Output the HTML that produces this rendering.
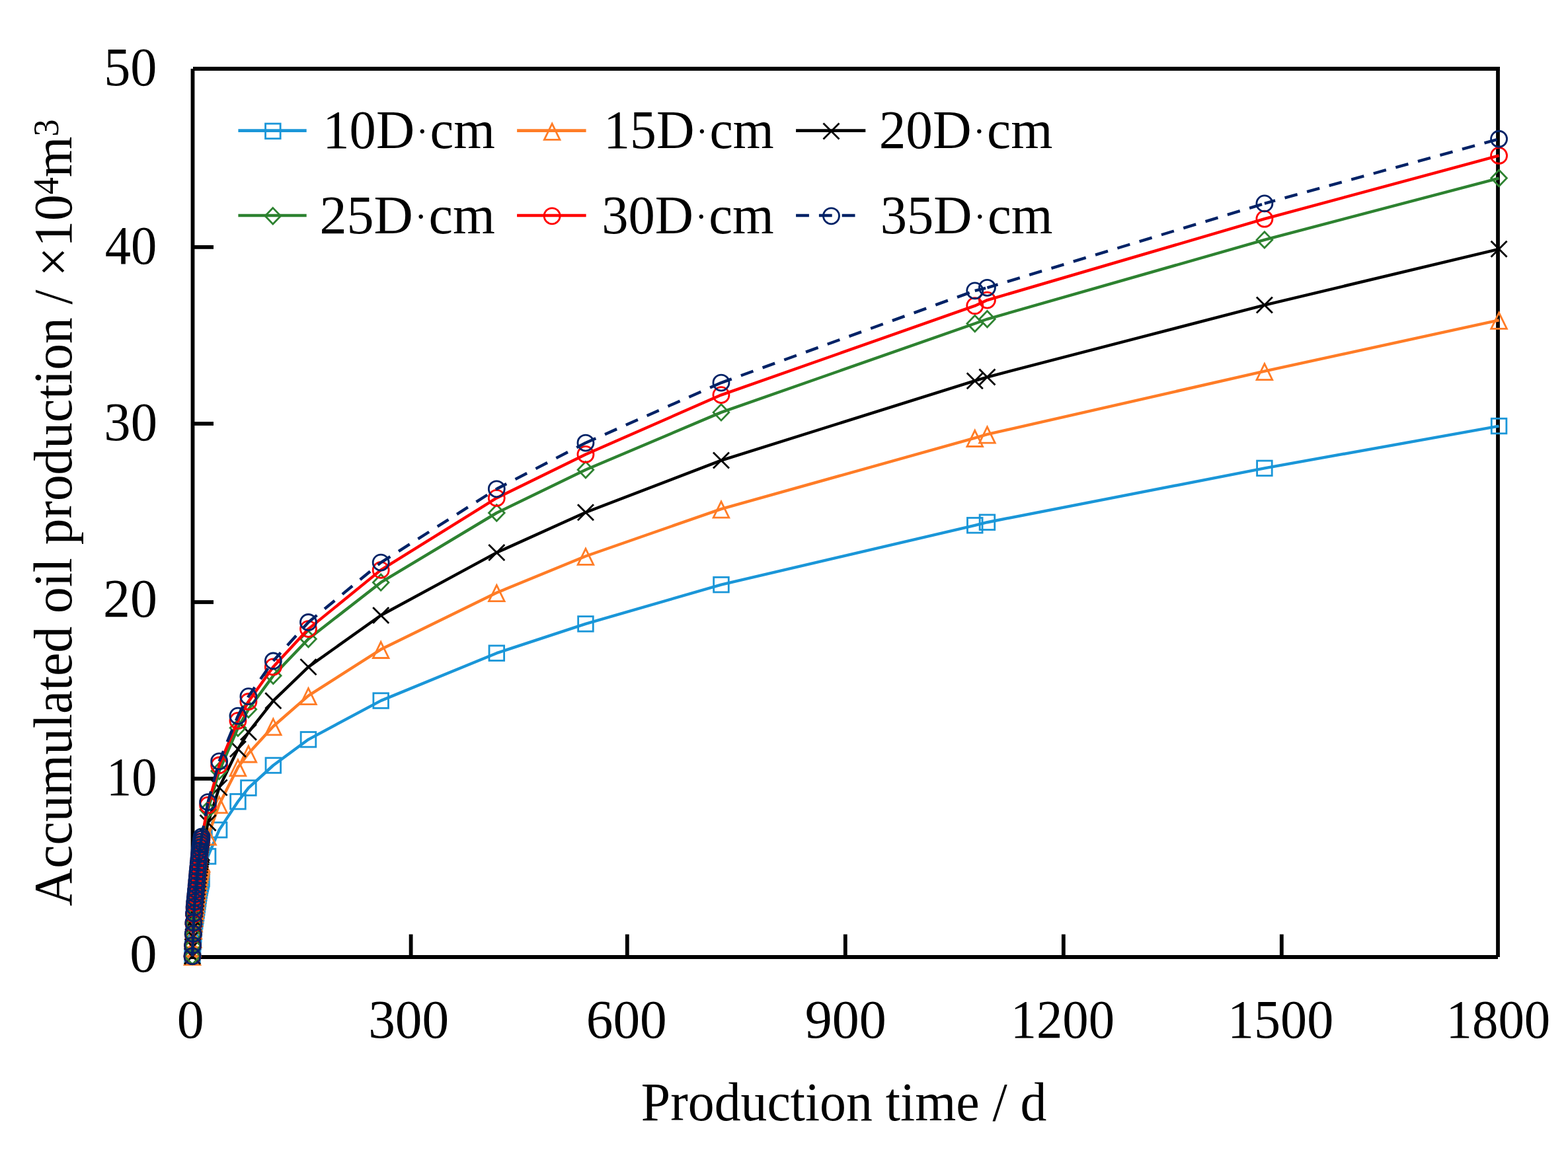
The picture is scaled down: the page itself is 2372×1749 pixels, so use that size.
<!DOCTYPE html>
<html><head><meta charset="utf-8"><title>Accumulated oil production vs production time</title>
<style>html,body{margin:0;padding:0;background:#fff;overflow:hidden;}svg{display:block;}text{font-family:"Liberation Serif","Times New Roman",serif;fill:#000;}</style></head><body>
<svg width="2372" height="1749" viewBox="0 0 2372 1749">
<rect width="2372" height="1749" fill="#fff"/>
<g stroke="#000" stroke-width="5.8" fill="none">
<path d="M291.5,104.0V1451.0"/>
<path d="M288.9,1448.0H2266.0"/>
<path d="M2266.0,101.0V1448.0"/>
<path d="M292.0,104.0H2269.0"/>
<path d="M621.60,1448.0V1413.6"/>
<path d="M948.80,1448.0V1413.6"/>
<path d="M1278.80,1448.0V1413.6"/>
<path d="M1608.80,1448.0V1413.6"/>
<path d="M1938.80,1448.0V1413.6"/>
<path d="M291.5,1178.10H323.0"/>
<path d="M291.5,911.00H323.0"/>
<path d="M291.5,641.00H323.0"/>
<path d="M291.5,373.90H323.0"/>
</g>
<text transform="translate(267.81,1569.70) scale(0.9971,1)" font-size="82">0</text>
<text transform="translate(557.23,1569.70) scale(0.9914,1)" font-size="82">300</text>
<text transform="translate(886.73,1569.70) scale(0.9922,1)" font-size="82">600</text>
<text transform="translate(1217.70,1569.70) scale(1.0000,1)" font-size="82">900</text>
<text transform="translate(1528.69,1569.70) scale(0.9591,1)" font-size="82">1200</text>
<text transform="translate(1856.95,1569.70) scale(0.9779,1)" font-size="82">1500</text>
<text transform="translate(2187.57,1569.70) scale(0.9617,1)" font-size="82">1800</text>
<text transform="translate(196.28,1470.10) scale(1.0057,1)" font-size="82">0</text>
<text transform="translate(160.99,1203.20) scale(0.9306,1)" font-size="82">10</text>
<text transform="translate(156.11,932.60) scale(0.9987,1)" font-size="82">20</text>
<text transform="translate(157.37,666.20) scale(0.9827,1)" font-size="82">30</text>
<text transform="translate(158.78,398.80) scale(0.9584,1)" font-size="82">40</text>
<text transform="translate(157.21,128.60) scale(0.9784,1)" font-size="82">50</text>
<text transform="translate(969.85,1694.80) scale(0.9729,1)" font-size="82">Production time / d</text>
<text transform="translate(108.1,1371.07) rotate(-90) scale(0.9685,1)" font-size="82">Accumulated oil production / ×10<tspan font-size="54" dy="-20">4</tspan><tspan dy="20">m</tspan><tspan font-size="54" dy="-20">3</tspan></text>
<path d="M291.00,1446.65L291.61,1435.97L292.23,1424.67L292.84,1413.88L293.46,1404.73L294.07,1398.22L294.69,1393.46L295.30,1389.52L295.92,1385.72L296.53,1381.51L297.15,1377.14L297.76,1372.74L298.38,1368.35L298.99,1364.02L299.61,1359.72L300.22,1355.30L300.84,1350.94L301.45,1346.83L302.07,1343.17L302.68,1340.00L303.30,1337.14L303.91,1334.47L304.53,1331.83L305.06,1329.49L314.61,1295.62L331.63,1255.65L359.96,1212.73L375.88,1192.07L413.33,1158.00L466.48,1118.84L576.18,1060.09L751.32,988.19L885.95,943.93L1090.97,884.65L1474.75,794.78L1493.42,790.22L1912.89,708.40L2267.58,644.55" fill="none" stroke="#1a96d8" stroke-width="4.4" stroke-linejoin="round"/>
<g fill="none" stroke="#1a96d8" stroke-width="2.8">
<rect x="279.70" y="1435.35" width="22.60" height="22.60"/><rect x="280.31" y="1424.67" width="22.60" height="22.60"/><rect x="280.93" y="1413.37" width="22.60" height="22.60"/><rect x="281.54" y="1402.58" width="22.60" height="22.60"/><rect x="282.16" y="1393.43" width="22.60" height="22.60"/><rect x="282.77" y="1386.92" width="22.60" height="22.60"/><rect x="283.39" y="1382.16" width="22.60" height="22.60"/><rect x="284.00" y="1378.22" width="22.60" height="22.60"/><rect x="284.62" y="1374.42" width="22.60" height="22.60"/><rect x="285.23" y="1370.21" width="22.60" height="22.60"/><rect x="285.85" y="1365.84" width="22.60" height="22.60"/><rect x="286.46" y="1361.44" width="22.60" height="22.60"/><rect x="287.08" y="1357.05" width="22.60" height="22.60"/><rect x="287.69" y="1352.72" width="22.60" height="22.60"/><rect x="288.31" y="1348.42" width="22.60" height="22.60"/><rect x="288.92" y="1344.00" width="22.60" height="22.60"/><rect x="289.54" y="1339.64" width="22.60" height="22.60"/><rect x="290.15" y="1335.53" width="22.60" height="22.60"/><rect x="290.77" y="1331.87" width="22.60" height="22.60"/><rect x="291.38" y="1328.70" width="22.60" height="22.60"/><rect x="292.00" y="1325.84" width="22.60" height="22.60"/><rect x="292.61" y="1323.17" width="22.60" height="22.60"/><rect x="293.23" y="1320.53" width="22.60" height="22.60"/><rect x="293.76" y="1318.19" width="22.60" height="22.60"/><rect x="303.31" y="1284.32" width="22.60" height="22.60"/><rect x="320.33" y="1244.35" width="22.60" height="22.60"/><rect x="348.66" y="1201.43" width="22.60" height="22.60"/><rect x="364.58" y="1180.77" width="22.60" height="22.60"/><rect x="402.03" y="1146.70" width="22.60" height="22.60"/><rect x="455.18" y="1107.54" width="22.60" height="22.60"/><rect x="564.88" y="1048.79" width="22.60" height="22.60"/><rect x="740.02" y="976.89" width="22.60" height="22.60"/><rect x="874.65" y="932.63" width="22.60" height="22.60"/><rect x="1079.67" y="873.35" width="22.60" height="22.60"/><rect x="1463.45" y="783.48" width="22.60" height="22.60"/><rect x="1482.12" y="778.92" width="22.60" height="22.60"/><rect x="1901.59" y="697.10" width="22.60" height="22.60"/><rect x="2256.28" y="633.25" width="22.60" height="22.60"/>
</g>
<path d="M291.00,1446.65L291.61,1433.81L292.23,1420.22L292.84,1407.25L293.46,1396.25L294.07,1388.43L294.69,1382.71L295.30,1377.97L295.92,1373.41L296.53,1368.35L297.15,1363.08L297.76,1357.80L298.38,1352.52L298.99,1347.32L299.61,1342.14L300.22,1336.84L300.84,1331.60L301.45,1326.65L302.07,1322.25L302.68,1318.44L303.30,1315.01L303.91,1311.79L304.53,1308.62L305.06,1305.80L314.61,1265.05L331.63,1216.99L359.96,1160.95L375.88,1140.03L413.33,1098.99L466.48,1052.58L576.18,982.56L751.32,896.72L885.95,841.46L1090.97,770.10L1474.75,662.53L1493.42,657.16L1912.89,561.66L2267.58,484.40" fill="none" stroke="#ff7c26" stroke-width="4.4" stroke-linejoin="round"/>
<g fill="none" stroke="#ff7c26" stroke-width="2.8">
<path d="M291.00,1435.40L302.80,1459.60L279.20,1459.60Z"/><path d="M291.61,1422.56L303.41,1446.76L279.81,1446.76Z"/><path d="M292.23,1408.97L304.03,1433.17L280.43,1433.17Z"/><path d="M292.84,1396.00L304.64,1420.20L281.04,1420.20Z"/><path d="M293.46,1385.00L305.26,1409.20L281.66,1409.20Z"/><path d="M294.07,1377.18L305.87,1401.38L282.27,1401.38Z"/><path d="M294.69,1371.46L306.49,1395.66L282.89,1395.66Z"/><path d="M295.30,1366.72L307.10,1390.92L283.50,1390.92Z"/><path d="M295.92,1362.16L307.72,1386.36L284.12,1386.36Z"/><path d="M296.53,1357.10L308.33,1381.30L284.73,1381.30Z"/><path d="M297.15,1351.83L308.95,1376.03L285.35,1376.03Z"/><path d="M297.76,1346.55L309.56,1370.75L285.96,1370.75Z"/><path d="M298.38,1341.27L310.18,1365.47L286.58,1365.47Z"/><path d="M298.99,1336.07L310.79,1360.27L287.19,1360.27Z"/><path d="M299.61,1330.89L311.41,1355.09L287.81,1355.09Z"/><path d="M300.22,1325.59L312.02,1349.79L288.42,1349.79Z"/><path d="M300.84,1320.35L312.64,1344.55L289.04,1344.55Z"/><path d="M301.45,1315.40L313.25,1339.60L289.65,1339.60Z"/><path d="M302.07,1311.00L313.87,1335.20L290.27,1335.20Z"/><path d="M302.68,1307.19L314.48,1331.39L290.88,1331.39Z"/><path d="M303.30,1303.76L315.10,1327.96L291.50,1327.96Z"/><path d="M303.91,1300.54L315.71,1324.74L292.11,1324.74Z"/><path d="M304.53,1297.37L316.33,1321.57L292.73,1321.57Z"/><path d="M305.06,1294.55L316.86,1318.75L293.26,1318.75Z"/><path d="M314.61,1253.80L326.41,1278.00L302.81,1278.00Z"/><path d="M331.63,1205.74L343.43,1229.94L319.83,1229.94Z"/><path d="M359.96,1149.70L371.76,1173.90L348.16,1173.90Z"/><path d="M375.88,1128.78L387.68,1152.98L364.08,1152.98Z"/><path d="M413.33,1087.74L425.13,1111.94L401.53,1111.94Z"/><path d="M466.48,1041.33L478.28,1065.53L454.68,1065.53Z"/><path d="M576.18,971.31L587.98,995.51L564.38,995.51Z"/><path d="M751.32,885.47L763.12,909.67L739.52,909.67Z"/><path d="M885.95,830.21L897.75,854.41L874.15,854.41Z"/><path d="M1090.97,758.85L1102.77,783.05L1079.17,783.05Z"/><path d="M1474.75,651.28L1486.55,675.48L1462.95,675.48Z"/><path d="M1493.42,645.91L1505.22,670.11L1481.62,670.11Z"/><path d="M1912.89,550.41L1924.69,574.61L1901.09,574.61Z"/><path d="M2267.58,473.15L2279.38,497.35L2255.78,497.35Z"/>
</g>
<path d="M291.00,1446.65L291.61,1432.39L292.23,1417.31L292.84,1402.90L293.46,1390.69L294.07,1382.00L294.69,1375.65L295.30,1370.38L295.92,1365.32L296.53,1359.70L297.15,1353.86L297.76,1347.99L298.38,1342.13L298.99,1336.35L299.61,1330.61L300.22,1324.71L300.84,1318.89L301.45,1313.41L302.07,1308.51L302.68,1304.28L303.30,1300.47L303.91,1296.90L304.53,1293.38L305.06,1290.25L314.61,1245.00L331.63,1191.63L359.96,1133.32L375.88,1107.84L413.33,1060.36L466.48,1009.12L576.18,931.05L751.32,836.09L885.95,775.20L1090.97,696.60L1474.75,576.15L1493.42,570.51L1912.89,461.60L2267.58,376.83" fill="none" stroke="#000000" stroke-width="4.4" stroke-linejoin="round"/>
<g fill="none" stroke="#000000" stroke-width="2.8">
<path d="M279.00,1434.65L303.00,1458.65M279.00,1458.65L303.00,1434.65"/><path d="M279.61,1420.39L303.61,1444.39M279.61,1444.39L303.61,1420.39"/><path d="M280.23,1405.31L304.23,1429.31M280.23,1429.31L304.23,1405.31"/><path d="M280.84,1390.90L304.84,1414.90M280.84,1414.90L304.84,1390.90"/><path d="M281.46,1378.69L305.46,1402.69M281.46,1402.69L305.46,1378.69"/><path d="M282.07,1370.00L306.07,1394.00M282.07,1394.00L306.07,1370.00"/><path d="M282.69,1363.65L306.69,1387.65M282.69,1387.65L306.69,1363.65"/><path d="M283.30,1358.38L307.30,1382.38M283.30,1382.38L307.30,1358.38"/><path d="M283.92,1353.32L307.92,1377.32M283.92,1377.32L307.92,1353.32"/><path d="M284.53,1347.70L308.53,1371.70M284.53,1371.70L308.53,1347.70"/><path d="M285.15,1341.86L309.15,1365.86M285.15,1365.86L309.15,1341.86"/><path d="M285.76,1335.99L309.76,1359.99M285.76,1359.99L309.76,1335.99"/><path d="M286.38,1330.13L310.38,1354.13M286.38,1354.13L310.38,1330.13"/><path d="M286.99,1324.35L310.99,1348.35M286.99,1348.35L310.99,1324.35"/><path d="M287.61,1318.61L311.61,1342.61M287.61,1342.61L311.61,1318.61"/><path d="M288.22,1312.71L312.22,1336.71M288.22,1336.71L312.22,1312.71"/><path d="M288.84,1306.89L312.84,1330.89M288.84,1330.89L312.84,1306.89"/><path d="M289.45,1301.41L313.45,1325.41M289.45,1325.41L313.45,1301.41"/><path d="M290.07,1296.51L314.07,1320.51M290.07,1320.51L314.07,1296.51"/><path d="M290.68,1292.28L314.68,1316.28M290.68,1316.28L314.68,1292.28"/><path d="M291.30,1288.47L315.30,1312.47M291.30,1312.47L315.30,1288.47"/><path d="M291.91,1284.90L315.91,1308.90M291.91,1308.90L315.91,1284.90"/><path d="M292.53,1281.38L316.53,1305.38M292.53,1305.38L316.53,1281.38"/><path d="M293.06,1278.25L317.06,1302.25M293.06,1302.25L317.06,1278.25"/><path d="M302.61,1233.00L326.61,1257.00M302.61,1257.00L326.61,1233.00"/><path d="M319.63,1179.63L343.63,1203.63M319.63,1203.63L343.63,1179.63"/><path d="M347.96,1121.32L371.96,1145.32M347.96,1145.32L371.96,1121.32"/><path d="M363.88,1095.84L387.88,1119.84M363.88,1119.84L387.88,1095.84"/><path d="M401.33,1048.36L425.33,1072.36M401.33,1072.36L425.33,1048.36"/><path d="M454.48,997.12L478.48,1021.12M454.48,1021.12L478.48,997.12"/><path d="M564.18,919.05L588.18,943.05M564.18,943.05L588.18,919.05"/><path d="M739.32,824.09L763.32,848.09M739.32,848.09L763.32,824.09"/><path d="M873.95,763.20L897.95,787.20M873.95,787.20L897.95,763.20"/><path d="M1078.97,684.60L1102.97,708.60M1078.97,708.60L1102.97,684.60"/><path d="M1462.75,564.15L1486.75,588.15M1462.75,588.15L1486.75,564.15"/><path d="M1481.42,558.51L1505.42,582.51M1481.42,582.51L1505.42,558.51"/><path d="M1900.89,449.60L1924.89,473.60M1900.89,473.60L1924.89,449.60"/><path d="M2255.58,364.83L2279.58,388.83M2255.58,388.83L2279.58,364.83"/>
</g>
<path d="M291.00,1446.65L291.61,1430.99L292.23,1414.42L292.84,1398.60L293.46,1385.19L294.07,1375.65L294.69,1368.68L295.30,1362.89L295.92,1357.33L296.53,1351.16L297.15,1344.74L297.76,1338.29L298.38,1331.86L298.99,1325.51L299.61,1319.20L300.22,1312.73L300.84,1306.34L301.45,1300.31L302.07,1294.94L302.68,1290.29L303.30,1286.11L303.91,1282.19L304.53,1278.32L305.06,1274.88L314.61,1225.19L331.63,1166.57L359.96,1101.33L375.88,1073.30L413.33,1022.33L466.48,966.77L576.18,881.16L751.32,776.00L885.95,710.81L1090.97,623.90L1474.75,489.50L1493.42,482.79L1912.89,362.88L2267.58,269.53" fill="none" stroke="#2d8230" stroke-width="4.4" stroke-linejoin="round"/>
<g fill="none" stroke="#2d8230" stroke-width="2.8">
<path d="M291.00,1434.45L302.80,1446.65L291.00,1458.85L279.20,1446.65Z"/><path d="M291.61,1418.79L303.41,1430.99L291.61,1443.19L279.81,1430.99Z"/><path d="M292.23,1402.22L304.03,1414.42L292.23,1426.62L280.43,1414.42Z"/><path d="M292.84,1386.40L304.64,1398.60L292.84,1410.80L281.04,1398.60Z"/><path d="M293.46,1372.99L305.26,1385.19L293.46,1397.39L281.66,1385.19Z"/><path d="M294.07,1363.45L305.87,1375.65L294.07,1387.85L282.27,1375.65Z"/><path d="M294.69,1356.48L306.49,1368.68L294.69,1380.88L282.89,1368.68Z"/><path d="M295.30,1350.69L307.10,1362.89L295.30,1375.09L283.50,1362.89Z"/><path d="M295.92,1345.13L307.72,1357.33L295.92,1369.53L284.12,1357.33Z"/><path d="M296.53,1338.96L308.33,1351.16L296.53,1363.36L284.73,1351.16Z"/><path d="M297.15,1332.54L308.95,1344.74L297.15,1356.94L285.35,1344.74Z"/><path d="M297.76,1326.09L309.56,1338.29L297.76,1350.49L285.96,1338.29Z"/><path d="M298.38,1319.66L310.18,1331.86L298.38,1344.06L286.58,1331.86Z"/><path d="M298.99,1313.31L310.79,1325.51L298.99,1337.71L287.19,1325.51Z"/><path d="M299.61,1307.00L311.41,1319.20L299.61,1331.40L287.81,1319.20Z"/><path d="M300.22,1300.53L312.02,1312.73L300.22,1324.93L288.42,1312.73Z"/><path d="M300.84,1294.14L312.64,1306.34L300.84,1318.54L289.04,1306.34Z"/><path d="M301.45,1288.11L313.25,1300.31L301.45,1312.51L289.65,1300.31Z"/><path d="M302.07,1282.74L313.87,1294.94L302.07,1307.14L290.27,1294.94Z"/><path d="M302.68,1278.09L314.48,1290.29L302.68,1302.49L290.88,1290.29Z"/><path d="M303.30,1273.91L315.10,1286.11L303.30,1298.31L291.50,1286.11Z"/><path d="M303.91,1269.99L315.71,1282.19L303.91,1294.39L292.11,1282.19Z"/><path d="M304.53,1266.12L316.33,1278.32L304.53,1290.52L292.73,1278.32Z"/><path d="M305.06,1262.68L316.86,1274.88L305.06,1287.08L293.26,1274.88Z"/><path d="M314.61,1212.99L326.41,1225.19L314.61,1237.39L302.81,1225.19Z"/><path d="M331.63,1154.37L343.43,1166.57L331.63,1178.77L319.83,1166.57Z"/><path d="M359.96,1089.13L371.76,1101.33L359.96,1113.53L348.16,1101.33Z"/><path d="M375.88,1061.10L387.68,1073.30L375.88,1085.50L364.08,1073.30Z"/><path d="M413.33,1010.13L425.13,1022.33L413.33,1034.53L401.53,1022.33Z"/><path d="M466.48,954.57L478.28,966.77L466.48,978.97L454.68,966.77Z"/><path d="M576.18,868.96L587.98,881.16L576.18,893.36L564.38,881.16Z"/><path d="M751.32,763.80L763.12,776.00L751.32,788.20L739.52,776.00Z"/><path d="M885.95,698.61L897.75,710.81L885.95,723.01L874.15,710.81Z"/><path d="M1090.97,611.70L1102.77,623.90L1090.97,636.10L1079.17,623.90Z"/><path d="M1474.75,477.30L1486.55,489.50L1474.75,501.70L1462.95,489.50Z"/><path d="M1493.42,470.59L1505.22,482.79L1493.42,494.99L1481.62,482.79Z"/><path d="M1912.89,350.68L1924.69,362.88L1912.89,375.08L1901.09,362.88Z"/><path d="M2267.58,257.33L2279.38,269.53L2267.58,281.73L2255.78,269.53Z"/>
</g>
<path d="M291.00,1446.65L291.61,1430.49L292.23,1413.40L292.84,1397.09L293.46,1383.25L294.07,1373.40L294.69,1366.21L295.30,1360.25L295.92,1354.51L296.53,1348.14L297.15,1341.52L297.76,1334.87L298.38,1328.24L298.99,1321.69L299.61,1315.18L300.22,1308.50L300.84,1301.91L301.45,1295.69L302.07,1290.15L302.68,1285.35L303.30,1281.04L303.91,1276.99L304.53,1273.00L305.06,1269.46L314.61,1218.19L331.63,1157.73L359.96,1090.43L375.88,1061.51L413.33,1008.93L466.48,951.62L576.18,862.38L751.32,753.47L885.95,687.47L1090.97,597.61L1474.75,462.67L1493.42,454.09L1912.89,331.22L2267.58,235.46" fill="none" stroke="#ff0000" stroke-width="4.4" stroke-linejoin="round"/>
<g fill="none" stroke="#ff0000" stroke-width="2.8">
<circle cx="291.00" cy="1446.65" r="12.0"/><circle cx="291.61" cy="1430.49" r="12.0"/><circle cx="292.23" cy="1413.40" r="12.0"/><circle cx="292.84" cy="1397.09" r="12.0"/><circle cx="293.46" cy="1383.25" r="12.0"/><circle cx="294.07" cy="1373.40" r="12.0"/><circle cx="294.69" cy="1366.21" r="12.0"/><circle cx="295.30" cy="1360.25" r="12.0"/><circle cx="295.92" cy="1354.51" r="12.0"/><circle cx="296.53" cy="1348.14" r="12.0"/><circle cx="297.15" cy="1341.52" r="12.0"/><circle cx="297.76" cy="1334.87" r="12.0"/><circle cx="298.38" cy="1328.24" r="12.0"/><circle cx="298.99" cy="1321.69" r="12.0"/><circle cx="299.61" cy="1315.18" r="12.0"/><circle cx="300.22" cy="1308.50" r="12.0"/><circle cx="300.84" cy="1301.91" r="12.0"/><circle cx="301.45" cy="1295.69" r="12.0"/><circle cx="302.07" cy="1290.15" r="12.0"/><circle cx="302.68" cy="1285.35" r="12.0"/><circle cx="303.30" cy="1281.04" r="12.0"/><circle cx="303.91" cy="1276.99" r="12.0"/><circle cx="304.53" cy="1273.00" r="12.0"/><circle cx="305.06" cy="1269.46" r="12.0"/><circle cx="314.61" cy="1218.19" r="12.0"/><circle cx="331.63" cy="1157.73" r="12.0"/><circle cx="359.96" cy="1090.43" r="12.0"/><circle cx="375.88" cy="1061.51" r="12.0"/><circle cx="413.33" cy="1008.93" r="12.0"/><circle cx="466.48" cy="951.62" r="12.0"/><circle cx="576.18" cy="862.38" r="12.0"/><circle cx="751.32" cy="753.47" r="12.0"/><circle cx="885.95" cy="687.47" r="12.0"/><circle cx="1090.97" cy="597.61" r="12.0"/><circle cx="1474.75" cy="462.67" r="12.0"/><circle cx="1493.42" cy="454.09" r="12.0"/><circle cx="1912.89" cy="331.22" r="12.0"/><circle cx="2267.58" cy="235.46" r="12.0"/>
</g>
<path d="M291.00,1446.65L291.61,1430.16M291.61,1430.16L292.23,1412.73M292.23,1412.73L292.84,1396.07M292.84,1396.07L293.46,1381.95M293.46,1381.95L294.07,1371.91M294.07,1371.91L294.69,1364.57M294.69,1364.57L295.30,1358.48M295.30,1358.48L295.92,1352.63M295.92,1352.63L296.53,1346.13M296.53,1346.13L297.15,1339.38M297.15,1339.38L297.76,1332.59M297.76,1332.59L298.38,1325.82M298.38,1325.82L298.99,1319.14M298.99,1319.14L299.61,1312.49M299.61,1312.49L300.22,1305.68M300.22,1305.68L300.84,1298.96M300.84,1298.96L301.45,1292.61M301.45,1292.61L302.07,1286.95M302.07,1286.95L302.68,1282.06M302.68,1282.06L303.30,1277.66M303.30,1277.66L303.91,1273.53M303.91,1273.53L304.53,1269.46M304.53,1269.46L305.06,1265.84M305.06,1265.84L314.61,1213.53M314.61,1213.53L331.63,1151.83M331.63,1151.83L359.96,1083.16M359.96,1083.16L375.88,1053.65M375.88,1053.65L413.33,1000.00M413.33,1000.00L466.48,941.52M466.48,941.52L576.18,851.11M576.18,851.11L751.32,739.78M751.32,739.78L885.95,670.04M885.95,670.04L1090.97,579.10M1090.97,579.10L1474.75,439.87M1474.75,439.87L1493.42,435.31M1493.42,435.31L1912.89,307.89M1912.89,307.89L2267.58,210.24" fill="none" stroke="#002266" stroke-width="4.4" stroke-linejoin="round" stroke-dasharray="19.8 15" stroke-dashoffset="3"/>
<g fill="none" stroke="#002266" stroke-width="2.8">
<circle cx="291.00" cy="1446.65" r="12.0"/><circle cx="291.61" cy="1430.16" r="12.0"/><circle cx="292.23" cy="1412.73" r="12.0"/><circle cx="292.84" cy="1396.07" r="12.0"/><circle cx="293.46" cy="1381.95" r="12.0"/><circle cx="294.07" cy="1371.91" r="12.0"/><circle cx="294.69" cy="1364.57" r="12.0"/><circle cx="295.30" cy="1358.48" r="12.0"/><circle cx="295.92" cy="1352.63" r="12.0"/><circle cx="296.53" cy="1346.13" r="12.0"/><circle cx="297.15" cy="1339.38" r="12.0"/><circle cx="297.76" cy="1332.59" r="12.0"/><circle cx="298.38" cy="1325.82" r="12.0"/><circle cx="298.99" cy="1319.14" r="12.0"/><circle cx="299.61" cy="1312.49" r="12.0"/><circle cx="300.22" cy="1305.68" r="12.0"/><circle cx="300.84" cy="1298.96" r="12.0"/><circle cx="301.45" cy="1292.61" r="12.0"/><circle cx="302.07" cy="1286.95" r="12.0"/><circle cx="302.68" cy="1282.06" r="12.0"/><circle cx="303.30" cy="1277.66" r="12.0"/><circle cx="303.91" cy="1273.53" r="12.0"/><circle cx="304.53" cy="1269.46" r="12.0"/><circle cx="305.06" cy="1265.84" r="12.0"/><circle cx="314.61" cy="1213.53" r="12.0"/><circle cx="331.63" cy="1151.83" r="12.0"/><circle cx="359.96" cy="1083.16" r="12.0"/><circle cx="375.88" cy="1053.65" r="12.0"/><circle cx="413.33" cy="1000.00" r="12.0"/><circle cx="466.48" cy="941.52" r="12.0"/><circle cx="576.18" cy="851.11" r="12.0"/><circle cx="751.32" cy="739.78" r="12.0"/><circle cx="885.95" cy="670.04" r="12.0"/><circle cx="1090.97" cy="579.10" r="12.0"/><circle cx="1474.75" cy="439.87" r="12.0"/><circle cx="1493.42" cy="435.31" r="12.0"/><circle cx="1912.89" cy="307.89" r="12.0"/><circle cx="2267.58" cy="210.24" r="12.0"/>
</g>
<path d="M360.4,197.6H463.7" stroke="#1a96d8" stroke-width="4.6"/>
<g fill="none" stroke="#1a96d8" stroke-width="2.8"><rect x="401.55" y="187.10" width="22.60" height="22.60"/></g>
<text transform="translate(488.32,223.60) scale(0.9829,1)" font-size="82">10D<tspan font-size="55" dx="2.7" dy="-6.6">·</tspan><tspan dx="2.7" dy="6.6">cm</tspan></text>
<path d="M782.1,197.6H886.6" stroke="#ff7c26" stroke-width="4.6"/>
<g fill="none" stroke="#ff7c26" stroke-width="2.8"><path d="M835.15,187.15L846.95,211.35L823.35,211.35Z"/></g>
<text transform="translate(913.30,223.60) scale(0.9712,1)" font-size="82">15D<tspan font-size="55" dx="2.7" dy="-6.6">·</tspan><tspan dx="2.7" dy="6.6">cm</tspan></text>
<path d="M1204.1,197.6H1309.3" stroke="#000000" stroke-width="4.6"/>
<g fill="none" stroke="#000000" stroke-width="2.8"><path d="M1245.50,186.40L1269.50,210.40M1245.50,210.40L1269.50,186.40"/></g>
<text transform="translate(1329.64,223.60) scale(0.9912,1)" font-size="82">20D<tspan font-size="55" dx="2.7" dy="-6.6">·</tspan><tspan dx="2.7" dy="6.6">cm</tspan></text>
<path d="M360.4,326.0H463.7" stroke="#2d8230" stroke-width="4.6"/>
<g fill="none" stroke="#2d8230" stroke-width="2.8"><path d="M412.85,314.60L424.65,326.80L412.85,339.00L401.05,326.80Z"/></g>
<text transform="translate(483.39,352.60) scale(1.0015,1)" font-size="82">25D<tspan font-size="55" dx="2.7" dy="-6.6">·</tspan><tspan dx="2.7" dy="6.6">cm</tspan></text>
<path d="M782.1,326.0H886.6" stroke="#ff0000" stroke-width="4.6"/>
<g fill="none" stroke="#ff0000" stroke-width="2.8"><circle cx="835.15" cy="326.80" r="12.0"/></g>
<text transform="translate(910.17,352.60) scale(0.9831,1)" font-size="82">30D<tspan font-size="55" dx="2.7" dy="-6.6">·</tspan><tspan dx="2.7" dy="6.6">cm</tspan></text>
<path d="M1204.1,326.0H1304.0" stroke="#002266" stroke-width="4.6" stroke-dasharray="19.8 15"/>
<g fill="none" stroke="#002266" stroke-width="2.8"><circle cx="1257.50" cy="326.80" r="12.0"/></g>
<text transform="translate(1331.77,352.60) scale(0.9831,1)" font-size="82">35D<tspan font-size="55" dx="2.7" dy="-6.6">·</tspan><tspan dx="2.7" dy="6.6">cm</tspan></text>
</svg></body></html>
